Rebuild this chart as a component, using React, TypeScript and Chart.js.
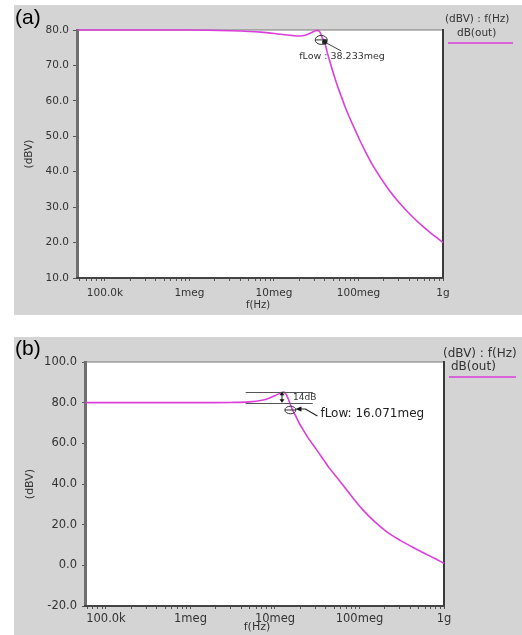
import React, { useEffect, useRef } from 'react';
import { Chart, registerables } from 'chart.js';

Chart.register(...registerables);

// ---------- data ----------
const freqA = [4.8e4, 1e5, 1e6, 3e6, 7e6, 12e6, 17e6, 20e6, 24e6, 28e6, 31e6, 33e6, 35e6, 37e6, 40e6, 43e6, 46e6, 49e6, 55e6, 62e6, 69e6, 80e6, 92e6, 105e6, 120e6, 150e6, 224e6, 300e6, 407e6, 600e6, 800e6, 1e9];
const dbA = [80.0, 80.0, 80.0, 79.8, 79.4, 78.8, 78.4, 78.3, 78.6, 79.3, 79.8, 79.9, 79.4, 78.0, 76.3, 73.4, 71.0, 68.8, 65.0, 61.5, 58.5, 54.8, 51.6, 48.6, 45.8, 41.5, 35.2, 31.4, 28.0, 24.2, 21.8, 20.0];

const freqB = [5.8e4, 1e5, 1e6, 3e6, 5e6, 7e6, 8.5e6, 10e6, 11.5e6, 12.6e6, 13.5e6, 14.5e6, 15.5e6, 16.5e6, 17.5e6, 19.3e6, 22e6, 25e6, 31e6, 38e6, 44e6, 58e6, 66e6, 85e6, 109e6, 150e6, 209e6, 300e6, 427e6, 600e6, 800e6, 1e9];
const dbB = [80.0, 80.0, 80.0, 80.1, 80.4, 81.2, 82.2, 83.5, 84.6, 85.2, 84.2, 81.4, 78.2, 75.6, 73.6, 70.0, 66.0, 62.3, 56.9, 51.6, 47.8, 41.6, 38.6, 32.8, 27.4, 21.6, 16.6, 12.4, 8.9, 5.7, 3.1, 1.0];

const xMajorValues = [1e5, 1e6, 1e7, 1e8, 1e9];
const xMajorLabels = ['100.0k', '1meg', '10meg', '100meg', '1g'];
const yTicksA = [10, 20, 30, 40, 50, 60, 70, 80];
const yTicksB = [-20, 0, 20, 40, 60, 80, 100];

const markerA = { freq: 38.233e6, db: 77.2, label: 'fLow : 38.233meg' };
const markerB = { freq: 16.071e6, db: 76.4, label: 'fLow: 16.071meg' };
const peakB = { fromFreq: 4.5e6, toFreq: 28e6, arrowFreq: 12.1e6, top: 85.4, base: 80, label: '14dB' };

const legendTitle = '(dBV) : f(Hz)';
const legendSeries = 'dB(out)';
const xTitle = 'f(Hz)';
const yTitle = '(dBV)';

const FONT = 'DejaVu Sans';
const CURVE = '#dc3edc';
const GRAY = '#d4d4d4';

function allLogTicks(min: number, max: number) {
  const out: { value: number; major: boolean }[] = [];
  for (let e = 4; e <= 9; e++) {
    for (let m = 1; m <= 9; m++) {
      const v = m * Math.pow(10, e);
      if (v >= min * 0.999 && v <= max * 1.001) out.push({ value: v, major: m === 1 });
    }
  }
  return out;
}

type PanelCfg = {
  id: string;
  tag: string;
  freq: number[];
  db: number[];
  xMin: number;
  xMax: number;
  yMin: number;
  yMax: number;
  yTicks: number[];
  width: number;
  height: number;
  padRight: number;
  yWidth: number;
  xHeight: number;
  tickFont: number;
  yTickLen: number;
  yPad: number;
  xPad: number;
  legendFont: number;
  legend: { tx: number; ty: number; sx: number; sy: number; lx0: number; lx1: number; ly: number };
  xTitlePos: { x: number; y: number; size: number };
  yTitlePos: { x: number; size: number };
  tagPos: { x: number; y: number };
  drawAnno: (chart: any) => void;
};

function drawEllipseMarker(ctx: CanvasRenderingContext2D, cx: number, cy: number, rx: number, ry: number) {
  ctx.strokeStyle = '#333';
  ctx.lineWidth = 1;
  ctx.beginPath();
  ctx.ellipse(cx, cy, rx, ry, 0, 0, Math.PI * 2);
  ctx.stroke();
  ctx.beginPath();
  ctx.moveTo(cx - rx, cy);
  ctx.lineTo(cx + rx, cy);
  ctx.stroke();
}

function annoA(chart: any) {
  const { ctx, scales } = chart;
  const cx = scales.x.getPixelForValue(markerA.freq) - 2;
  const cy = scales.y.getPixelForValue(markerA.db);
  ctx.save();
  drawEllipseMarker(ctx, cx, cy, 6, 4.5);
  ctx.fillStyle = '#222';
  ctx.beginPath();
  ctx.arc(cx + 3.5, cy + 2, 2.6, 0, Math.PI * 2);
  ctx.fill();
  ctx.strokeStyle = '#444';
  ctx.lineWidth = 1;
  ctx.beginPath();
  ctx.moveTo(cx + 5, cy + 3);
  ctx.lineTo(cx + 20, cy + 11);
  ctx.stroke();
  ctx.fillStyle = '#333';
  ctx.font = `9.5px "${FONT}"`;
  ctx.textAlign = 'left';
  ctx.textBaseline = 'middle';
  ctx.fillText(markerA.label, cx - 22, cy + 17);
  ctx.restore();
}

function annoB(chart: any) {
  const { ctx, scales } = chart;
  const x0 = scales.x.getPixelForValue(peakB.fromFreq);
  const x1 = scales.x.getPixelForValue(peakB.toFreq);
  const xa = scales.x.getPixelForValue(peakB.arrowFreq);
  const yt = scales.y.getPixelForValue(peakB.top);
  const yb = scales.y.getPixelForValue(peakB.base);
  ctx.save();
  ctx.strokeStyle = '#555';
  ctx.lineWidth = 1;
  ctx.beginPath();
  ctx.moveTo(x0, Math.round(yt) + 0.5);
  ctx.lineTo(x1, Math.round(yt) + 0.5);
  ctx.moveTo(x0, Math.round(yb) + 0.5);
  ctx.lineTo(x1, Math.round(yb) + 0.5);
  ctx.stroke();
  ctx.strokeStyle = '#111';
  ctx.beginPath();
  ctx.moveTo(xa, yt + 2);
  ctx.lineTo(xa, yb - 2);
  ctx.stroke();
  ctx.fillStyle = '#111';
  ctx.beginPath();
  ctx.moveTo(xa, yt);
  ctx.lineTo(xa - 2.5, yt + 3.5);
  ctx.lineTo(xa + 2.5, yt + 3.5);
  ctx.closePath();
  ctx.fill();
  ctx.beginPath();
  ctx.moveTo(xa, yb);
  ctx.lineTo(xa - 2.5, yb - 3.5);
  ctx.lineTo(xa + 2.5, yb - 3.5);
  ctx.closePath();
  ctx.fill();
  ctx.fillStyle = '#333';
  ctx.font = `9px "${FONT}"`;
  ctx.textAlign = 'left';
  ctx.textBaseline = 'middle';
  ctx.fillText(peakB.label, xa + 11, (yt + yb) / 2);

  const cx = scales.x.getPixelForValue(markerB.freq) - 2;
  const cy = scales.y.getPixelForValue(markerB.db);
  drawEllipseMarker(ctx, cx, cy, 5.5, 3.8);
  ctx.fillStyle = '#111';
  ctx.beginPath();
  ctx.moveTo(cx + 5, cy - 1);
  ctx.lineTo(cx + 11, cy - 3.5);
  ctx.lineTo(cx + 11, cy + 1.5);
  ctx.closePath();
  ctx.fill();
  ctx.strokeStyle = '#222';
  ctx.lineWidth = 1.2;
  ctx.beginPath();
  ctx.moveTo(cx + 10, cy - 1);
  ctx.lineTo(cx + 15, cy - 1);
  ctx.lineTo(cx + 27, cy + 6);
  ctx.stroke();
  ctx.fillStyle = '#222';
  ctx.font = `12px "${FONT}"`;
  ctx.fillText(markerB.label, cx + 30, cy + 4);
  ctx.restore();
}

function makePlugin(cfg: PanelCfg) {
  return {
    id: 'panel' + cfg.id,
    beforeDraw(chart: any) {
      const { ctx, chartArea: a } = chart;
      ctx.save();
      ctx.fillStyle = GRAY;
      ctx.fillRect(0, 0, chart.width, chart.height);
      ctx.fillStyle = '#ffffff';
      ctx.fillRect(a.left, a.top, a.right - a.left, a.bottom - a.top);
      ctx.restore();
    },
    beforeDatasetsDraw(chart: any) {
      const { ctx, chartArea: a } = chart;
      ctx.save();
      ctx.fillStyle = '#7a7a7a';
      ctx.fillRect(a.left, a.top - 0.5, a.right - a.left, 1);
      ctx.fillStyle = '#6e6e6e';
      ctx.fillRect(a.left - 2, a.top - 1, 3, a.bottom - a.top + 2);
      ctx.fillStyle = '#3a3a3a';
      ctx.fillRect(a.right - 1, a.top - 1, 2, a.bottom - a.top + 2);
      ctx.fillStyle = '#444';
      ctx.fillRect(a.left - 2, a.bottom - 1, a.right - a.left + 3, 2);
      ctx.restore();
    },
    afterDraw(chart: any) {
      const { ctx, chartArea: a } = chart;
      ctx.save();
      ctx.fillStyle = '#000';
      ctx.font = `21px "Liberation Sans"`;
      ctx.textAlign = 'left';
      ctx.textBaseline = 'middle';
      ctx.fillText(cfg.tag, cfg.tagPos.x, cfg.tagPos.y);
      ctx.fillStyle = '#333';
      ctx.font = `${cfg.legendFont}px "${FONT}"`;
      ctx.fillText(legendTitle, cfg.legend.tx, cfg.legend.ty);
      ctx.fillText(legendSeries, cfg.legend.sx, cfg.legend.sy);
      ctx.strokeStyle = CURVE;
      ctx.lineWidth = 1.5;
      ctx.beginPath();
      ctx.moveTo(cfg.legend.lx0, cfg.legend.ly);
      ctx.lineTo(cfg.legend.lx1, cfg.legend.ly);
      ctx.stroke();
      ctx.fillStyle = '#333';
      ctx.textAlign = 'center';
      ctx.font = `${cfg.xTitlePos.size}px "${FONT}"`;
      ctx.fillText(xTitle, cfg.xTitlePos.x, cfg.xTitlePos.y);
      ctx.translate(cfg.yTitlePos.x, (a.top + a.bottom) / 2);
      ctx.rotate(-Math.PI / 2);
      ctx.font = `${cfg.yTitlePos.size}px "${FONT}"`;
      ctx.fillText(yTitle, 0, 0);
      ctx.restore();
      cfg.drawAnno(chart);
    },
  };
}

function buildChart(canvas: HTMLCanvasElement, cfg: PanelCfg) {
  const labelFor = (v: number) => {
    const i = xMajorValues.findIndex((m) => Math.abs(m - v) / m < 1e-6);
    return i >= 0 ? xMajorLabels[i] : '';
  };
  return new Chart(canvas, {
    type: 'line',
    data: {
      datasets: [
        {
          data: cfg.freq.map((f, i) => ({ x: f, y: cfg.db[i] })),
          borderColor: CURVE,
          borderWidth: 1.6,
          pointRadius: 0,
          cubicInterpolationMode: 'monotone',
          fill: false,
          clip: 4,
        } as any,
      ],
    },
    options: {
      animation: false,
      responsive: false,
      devicePixelRatio: 1,
      layout: { padding: { left: 0, top: 25, right: cfg.padRight, bottom: 0 } },
      plugins: { legend: { display: false }, tooltip: { enabled: false }, title: { display: false } },
      scales: {
        x: {
          type: 'logarithmic',
          min: cfg.xMin,
          max: cfg.xMax,
          afterBuildTicks: (scale: any) => {
            scale.ticks = allLogTicks(cfg.xMin, cfg.xMax);
          },
          afterFit: (scale: any) => {
            scale.height = cfg.xHeight;
          },
          border: { display: false },
          grid: { drawOnChartArea: false, drawTicks: true, tickLength: 3, color: '#555', lineWidth: 1 },
          ticks: {
            autoSkip: false,
            maxRotation: 0,
            minRotation: 0,
            padding: cfg.xPad,
            color: '#333',
            font: { family: FONT, size: cfg.tickFont },
            callback: (v: any) => labelFor(Number(v)),
          },
        },
        y: {
          type: 'linear',
          min: cfg.yMin,
          max: cfg.yMax,
          afterBuildTicks: (scale: any) => {
            scale.ticks = cfg.yTicks.map((v) => ({ value: v }));
          },
          afterFit: (scale: any) => {
            scale.width = cfg.yWidth;
          },
          border: { display: false },
          grid: { drawOnChartArea: false, drawTicks: true, tickLength: cfg.yTickLen, color: '#555', lineWidth: 1 },
          ticks: {
            padding: cfg.yPad,
            color: '#333',
            font: { family: FONT, size: cfg.tickFont },
            callback: (v: any) => Number(v).toFixed(1),
          },
        },
      },
    },
    plugins: [makePlugin(cfg)],
  } as any);
}

const panelA: PanelCfg = {
  id: 'a',
  tag: '(a)',
  freq: freqA,
  db: dbA,
  xMin: 4.8e4,
  xMax: 1e9,
  yMin: 10,
  yMax: 80,
  yTicks: yTicksA,
  width: 508,
  height: 310,
  padRight: 79,
  yWidth: 64,
  xHeight: 37,
  tickFont: 10.5,
  yTickLen: 5,
  yPad: 4,
  xPad: 6,
  legendFont: 10.5,
  legend: { tx: 431, ty: 14, sx: 443, sy: 28, lx0: 434, lx1: 499, ly: 38 },
  xTitlePos: { x: 244, y: 300, size: 10 },
  yTitlePos: { x: 15, size: 10.5 },
  tagPos: { x: 1, y: 13 },
  drawAnno: annoA,
};

const panelB: PanelCfg = {
  id: 'b',
  tag: '(b)',
  freq: freqB,
  db: dbB,
  xMin: 5.8e4,
  xMax: 1e9,
  yMin: -20,
  yMax: 100,
  yTicks: yTicksB,
  width: 508,
  height: 298,
  padRight: 78,
  yWidth: 72,
  xHeight: 29,
  tickFont: 11.5,
  yTickLen: 4,
  yPad: 5,
  xPad: 3,
  legendFont: 12,
  legend: { tx: 429, ty: 17, sx: 437, sy: 30, lx0: 435, lx1: 502, ly: 40 },
  xTitlePos: { x: 243, y: 290, size: 11 },
  yTitlePos: { x: 16, size: 11 },
  tagPos: { x: 1, y: 12 },
  drawAnno: annoB,
};

function Panel({ cfg, left, top }: { cfg: PanelCfg; left: number; top: number }) {
  const ref = useRef<HTMLCanvasElement | null>(null);
  useEffect(() => {
    if (!ref.current) return;
    const chart = buildChart(ref.current, cfg);
    return () => chart.destroy();
  }, [cfg]);
  return (
    <div style={{ position: 'absolute', left, top, width: cfg.width, height: cfg.height }}>
      <canvas ref={ref} width={cfg.width} height={cfg.height} style={{ width: cfg.width, height: cfg.height, display: 'block' }} />
    </div>
  );
}

export default function App() {
  return (
    <div style={{ position: 'absolute', left: 0, top: 0, width: 522, height: 635, background: '#ffffff', overflow: 'hidden' }}>
      <Panel cfg={panelA} left={14} top={5} />
      <Panel cfg={panelB} left={14} top={337} />
    </div>
  );
}
